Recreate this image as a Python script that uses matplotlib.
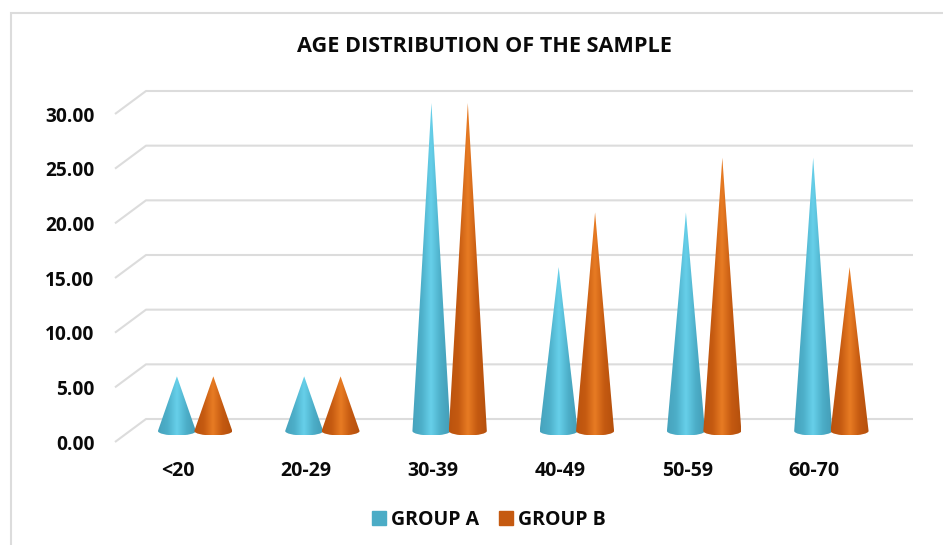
import matplotlib

matplotlib.use("Agg")
import matplotlib.pyplot as plt
import numpy as np
from matplotlib.colors import LinearSegmentedColormap
from matplotlib.patches import Patch, PathPatch, Rectangle
from matplotlib.path import Path

plt.rcParams["font.family"] = ["Open Sans", "DejaVu Sans"]

title = "AGE DISTRIBUTION OF THE SAMPLE"
age_groups = ["<20", "20-29", "30-39", "40-49", "50-59", "60-70"]
group_a = [5, 5, 30, 15, 20, 25]
group_b = [5, 5, 30, 20, 25, 15]
y_ticks = [0, 5, 10, 15, 20, 25, 30]
group_names = ["GROUP A", "GROUP B"]

W, H = 943, 545
GRID = "#dcdcdc"
BLUE = "#4bacc6"
ORANGE = "#c55a11"
INK = "#0a0a0a"
blue_map = LinearSegmentedColormap.from_list(
    "blue", ["#47a3bd", "#4dafc9", "#67d0ea", "#4dafc9", "#449db7"]
)
orange_map = LinearSegmentedColormap.from_list(
    "orange", ["#bb530e", "#c55a11", "#e87c24", "#c55a11", "#b5500d"]
)


def px_x(p):
    return p / W


def px_y(p):
    return 1 - p / H


unit = 328 / 30  # pixels per y unit
y_floor = -1  # a little room under zero so the cone bases are not cut off
bottom_px = 431 - y_floor * unit

fig = plt.figure(figsize=(W / 100, H / 100), dpi=100, facecolor="white")
ax = fig.add_axes([px_x(131.5), px_y(bottom_px), (895 - 131.5) / W, (bottom_px - 103) / H])
ax.axis("off")

cat = (895 - 131.5) / 6  # pixels per category
back_lift = 12 / unit
front_drop = 11 / unit

for v in y_ticks:
    ax.plot(
        [-0.5 - 16.5 / cat, -0.5 + 14.5 / cat, 5.5 + 18 / cat],
        [v - front_drop, v + back_lift, v + back_lift],
        color=GRID,
        lw=1.5,
        clip_on=False,
        zorder=1,
        solid_capstyle="butt",
    )
    ax.text(
        -0.5 - 37 / cat,
        v - front_drop,
        f"{v:.2f}",
        ha="right",
        va="center_baseline",
        fontsize=13.8,
        fontweight="bold",
        color=INK,
    )


def draw_cone(x, value, half_width, cmap, zorder):
    ell = 4.5 / unit
    k = 0.5523
    path = Path(
        [
            (x, value),
            (x - half_width, 0),
            (x - half_width, -ell * k),
            (x - half_width * k, -ell),
            (x, -ell),
            (x + half_width * k, -ell),
            (x + half_width, -ell * k),
            (x + half_width, 0),
            (x, value),
        ],
        [
            Path.MOVETO,
            Path.LINETO,
            Path.CURVE4,
            Path.CURVE4,
            Path.CURVE4,
            Path.CURVE4,
            Path.CURVE4,
            Path.CURVE4,
            Path.CLOSEPOLY,
        ],
    )
    patch = PathPatch(path, fc="none", ec="none", transform=ax.transData)
    ax.add_patch(patch)
    shade = np.linspace(0, 1, 64).reshape(1, -1)
    img = ax.imshow(
        shade,
        cmap=cmap,
        extent=(x - half_width, x + half_width, -ell, value),
        aspect="auto",
        zorder=zorder,
    )
    img.set_clip_path(patch)


half = 19 / cat
shift = 18.2 / cat
for i, (a, b) in enumerate(zip(group_a, group_b)):
    draw_cone(i - shift, a, half, blue_map, 3)
    draw_cone(i + shift, b, half, orange_map, 4)
    ax.text(
        i - 17 / cat,
        -40 / unit,
        age_groups[i],
        ha="center",
        va="center",
        fontsize=14,
        fontweight="bold",
        color=INK,
    )
ax.set_xlim(-0.5, 5.5)
ax.set_ylim(y_floor, 30)

fig.text(
    px_x(484), px_y(46), title,
    ha="center", va="center", fontsize=15.6, fontweight="bold", color=INK,
)

# frame of the chart area, bottom and right run off the picture
fig.add_artist(
    Rectangle(
        (px_x(10.5), px_y(560)), (960 - 10.5) / W, (560 - 13) / H,
        transform=fig.transFigure, fill=False, ec="#dcdcdc", lw=1.5,
    )
)

handles = [Patch(color=BLUE), Patch(color=ORANGE)]
fig.legend(
    handles, group_names,
    loc="center", bbox_to_anchor=(px_x(489), px_y(520)),
    ncol=2, frameon=False,
    prop={"weight": "bold", "size": 14},
    handlelength=0.75, handleheight=0.75, handletextpad=0.25, columnspacing=1.0,
    labelcolor=INK,
)

fig.savefig("out.png", dpi=100)
